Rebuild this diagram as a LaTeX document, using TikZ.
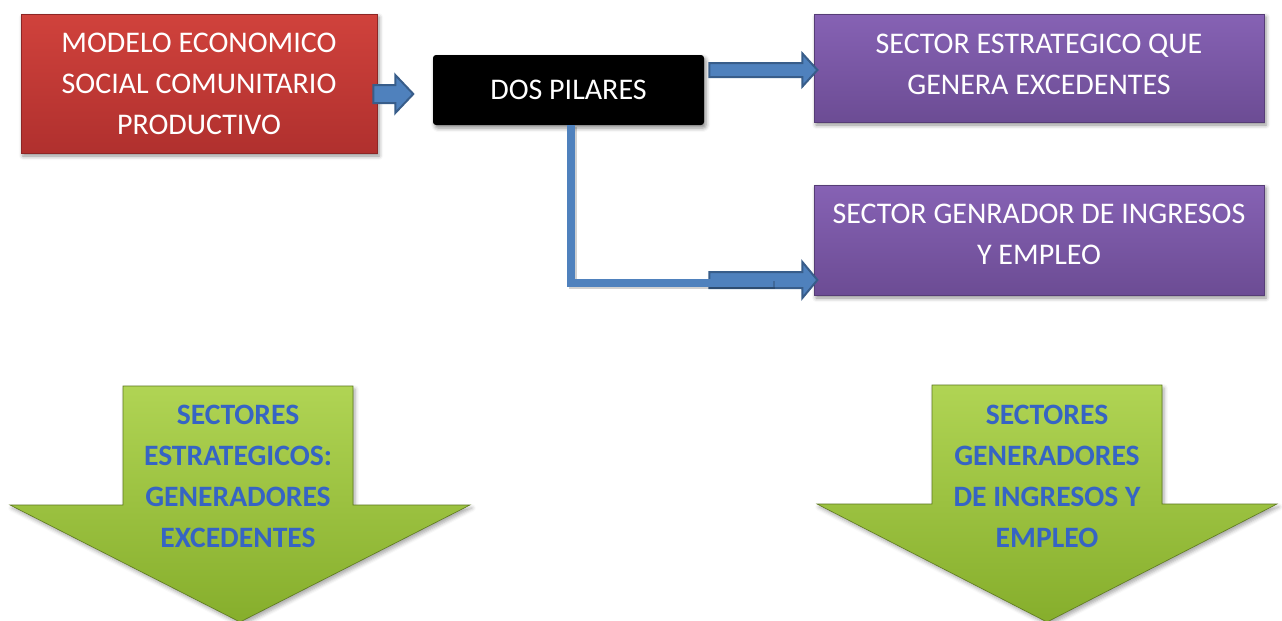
\documentclass[tikz,border=0pt]{standalone}
\usepackage{fontspec}
\setmainfont{Carlito}
\usetikzlibrary{calc,shadows.blur}

\definecolor{modelred}{RGB}{208,66,60}
\definecolor{modelreddk}{RGB}{176,48,46}
\definecolor{sectorpurple}{RGB}{134,98,180}
\definecolor{sectorpurpledk}{RGB}{108,76,148}
\definecolor{arrowblue}{RGB}{79,129,189}
\definecolor{arrowbluedk}{RGB}{56,93,138}
\definecolor{pilargreen}{RGB}{176,212,84}
\definecolor{pilargreendk}{RGB}{134,174,44}
\definecolor{pilartext}{RGB}{54,100,196}

% block arrow: start, shaft length, head length, half shaft, half head
\newcommand{\blockarrow}[5]{%
  \draw[bluearr] (#1) ++(0,-#4) -- ++(#2,0) -- ++(0,{#4-#5}) -- ++(#3,#5)
    -- ++(-#3,#5) -- ++(0,{#4-#5}) -- ++(-#2,0) -- cycle;}

\begin{document}
\begin{tikzpicture}[x=0.5pt,y=-0.5pt,
	box/.style={rectangle, text=white, align=center, font=\fontsize{15}{20.5}\selectfont,
		blur shadow={shadow xshift=1pt, shadow yshift=-1.5pt, shadow blur radius=2pt, shadow opacity=45}},
	redbox/.style={box, top color=modelred, bottom color=modelreddk, draw=modelreddk!80!black, line width=0.3pt},
	purplebox/.style={box, top color=sectorpurple, bottom color=sectorpurpledk, draw=sectorpurpledk!80!black, line width=0.3pt},
	bluearr/.style={fill=arrowblue, draw=arrowbluedk, line width=1pt, line join=miter},
	linkline/.style={draw=arrowblue, line width=3.75pt},
	linkshadow/.style={draw=black, opacity=0.18, line width=3.75pt},
	greenarr/.style={top color=pilargreen, bottom color=pilargreendk, draw=pilargreendk!70!black, line width=0.3pt,
		blur shadow={shadow xshift=1pt, shadow yshift=-1.5pt, shadow opacity=35}},
	greentext/.style={text=pilartext, align=center, font=\fontsize{14.8}{20.5}\selectfont\bfseries}]
	\useasboundingbox (0,0) rectangle (1282,621);

	\node[redbox, minimum width=178pt, minimum height=69.5pt] (modelo) at (199,83.5)
		{MODELO ECONOMICO\\SOCIAL COMUNITARIO\\PRODUCTIVO};
	\node[box, fill=black, rounded corners=1.5pt, minimum width=135.5pt, minimum height=35pt] (pilares) at (568.5,90)
		{DOS PILARES};
	\node[purplebox, text depth=3.5pt, minimum width=225pt, minimum height=54pt] (estrat) at (1039,68)
		{SECTOR ESTRATEGICO QUE\\GENERA EXCEDENTES};
	\node[purplebox, text depth=5.5pt, minimum width=225pt, minimum height=55pt] (ingresos) at (1039,240)
		{SECTOR GENRADOR DE INGRESOS\\Y EMPLEO};

	% block arrows
	\blockarrow{$(modelo.east |- pilares.west)+(-4,4)$}{22}{18}{9}{19}
	\blockarrow{$(pilares.east |- estrat.west)+(5,2)$}{93}{15}{7}{16.5}
	\blockarrow{$(pilares.east |- ingresos.west)+(5,40)$}{93}{15}{8}{18}
	\coordinate (lEnd) at (773,283);
	\draw[linkshadow] ($(pilares.south)+(4.5,2)$) |- ($(lEnd)+(2,2)$);
	\draw[linkline] ($(pilares.south)+(2.5,0)$) |- (lEnd);

	% green arrows
	\path[greenarr] (123,386) -- (353,386) -- (353,505) -- (470,505) -- (240,622) -- (10,505) -- (123,505) -- cycle;
	\node[greentext] (estratTxt) at (238,476.5)
		{SECTORES\\ESTRATEGICOS:\\GENERADORES\\EXCEDENTES};
	\path[greenarr] (932,385) -- (1162,385) -- (1162,504) -- (1277,504) -- (1047,622) -- (817,504) -- (932,504) -- cycle;
	\node[greentext] (ingresosTxt) at (1047,476)
		{SECTORES\\GENERADORES\\DE INGRESOS Y\\EMPLEO};
\end{tikzpicture}
\end{document}
